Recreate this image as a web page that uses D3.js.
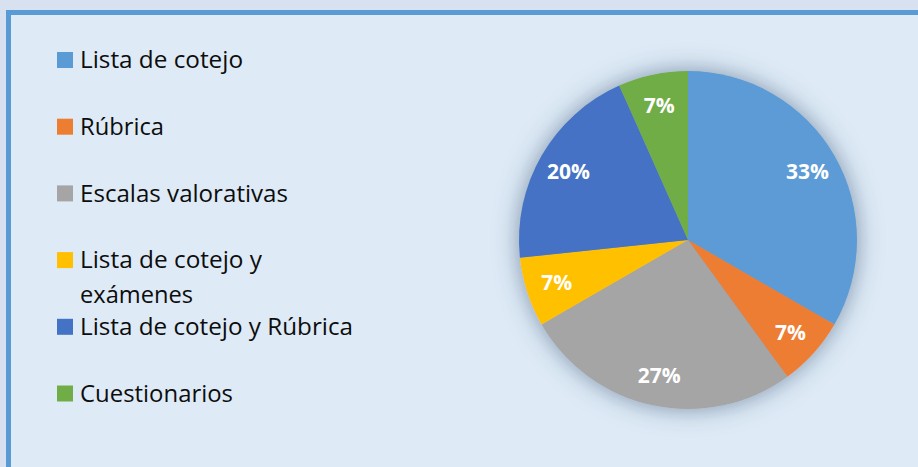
<!DOCTYPE html>
<html>
<head>
<meta charset="utf-8">
<script src="https://cdn.jsdelivr.net/npm/d3@7"></script>
<style>
  html, body { margin: 0; padding: 0; background: #d7e1f0; }
  .leyenda { font-family: "Open Sans", sans-serif; font-size: 23px; fill: #0d0d0d; }
  .etiquetaPie { font-family: "Open Sans", sans-serif; font-size: 21px; font-weight: bold; fill: #ffffff; }
</style>
</head>
<body>
<div id="grafInstrumentos"></div>
<script>
// Datos del grafico
const categorias = [
  "Lista de cotejo",
  "Rúbrica",
  "Escalas valorativas",
  "Lista de cotejo y exámenes",
  "Lista de cotejo y Rúbrica",
  "Cuestionarios",
]
const cantidades = [5, 1, 4, 1, 3, 1]
const etiquetas = ["33%", "7%", "27%", "7%", "20%", "7%"]
// lineas de texto de la leyenda (la cuarta va en dos lineas)
const lineasLeyenda = [
  ["Lista de cotejo"],
  ["Rúbrica"],
  ["Escalas valorativas"],
  ["Lista de cotejo y", "exámenes"],
  ["Lista de cotejo y Rúbrica"],
  ["Cuestionarios"],
]
const anchosLeyenda = [[163], [84], [208], [182, 113], [273], [153]]
const colores = ["#5b9bd5", "#ed7d31", "#a5a5a5", "#ffc000", "#4472c4", "#70ad47"]

const anchoTotal = 918
const altoTotal = 467

const svg = d3
  .select("#grafInstrumentos")
  .append("svg")
  .attr("width", anchoTotal)
  .attr("height", altoTotal)
  .style("display", "block")

// Sombra difusa alrededor del pie
const defs = svg.append("defs")
const sombra = defs
  .append("filter")
  .attr("id", "sombra")
  .attr("x", "-30%")
  .attr("y", "-30%")
  .attr("width", "160%")
  .attr("height", "160%")
sombra.append("feGaussianBlur").attr("in", "SourceAlpha").attr("stdDeviation", 12).attr("result", "blur")
sombra.append("feFlood").attr("flood-color", "#3a5878").attr("flood-opacity", 0.6)
sombra.append("feComposite").attr("in2", "blur").attr("operator", "in").attr("result", "sh")
const merge = sombra.append("feMerge")
merge.append("feMergeNode").attr("in", "sh")
merge.append("feMergeNode").attr("in", "SourceGraphic")

// Panel del grafico con borde
svg
  .append("rect")
  .attr("x", 8.5)
  .attr("y", 12.5)
  .attr("width", anchoTotal)
  .attr("height", altoTotal)
  .attr("fill", "#deeaf6")
  .attr("stroke", "#5b9bd5")
  .attr("stroke-width", 5)

// Escalas
const color = d3.scaleOrdinal().domain(categorias).range(colores)
const yLeyenda = d3.scalePoint().domain(categorias).range([60, 393.5])

// Leyenda
const leyenda = svg.append("g")
const item = leyenda
  .selectAll("g")
  .data(categorias)
  .join("g")
  .attr("transform", (d) => `translate(57, ${yLeyenda(d)})`)

item
  .append("rect")
  .attr("x", 0)
  .attr("y", -8)
  .attr("width", 16)
  .attr("height", 16)
  .attr("fill", (d) => color(d))

item.each(function (d, i) {
  d3.select(this)
    .selectAll("text")
    .data(lineasLeyenda[i])
    .join("text")
    .attr("class", "leyenda")
    .attr("x", 23)
    .attr("y", (l, j) => j * 35)
    .attr("dy", "0.36em")
    .attr("textLength", (l, j) => anchosLeyenda[i][j])
    .attr("lengthAdjust", "spacingAndGlyphs")
    .text((l) => l)
})

// Pie
const cx = 688
const cy = 240
const radio = 169
const pie = d3.pie().sort(null).value((d) => d.valor)
const datos = categorias.map((c, i) => ({ categoria: c, valor: cantidades[i], etiqueta: etiquetas[i] }))
const arcos = pie(datos)
const arco = d3.arc().innerRadius(0).outerRadius(radio)
const arcoEtiqueta = d3.arc().innerRadius(138).outerRadius(138)

const gPie = svg.append("g").attr("transform", `translate(${cx}, ${cy})`)

gPie
  .append("g")
  .attr("filter", "url(#sombra)")
  .selectAll("path")
  .data(arcos)
  .join("path")
  .attr("d", arco)
  .attr("fill", (d) => color(d.data.categoria))

gPie
  .selectAll("text")
  .data(arcos)
  .join("text")
  .attr("class", "etiquetaPie")
  .attr("transform", (d) => `translate(${arcoEtiqueta.centroid(d)})`)
  .attr("text-anchor", "middle")
  .attr("dy", "0.36em")
  .text((d) => d.data.etiqueta)
</script>
</body>
</html>
